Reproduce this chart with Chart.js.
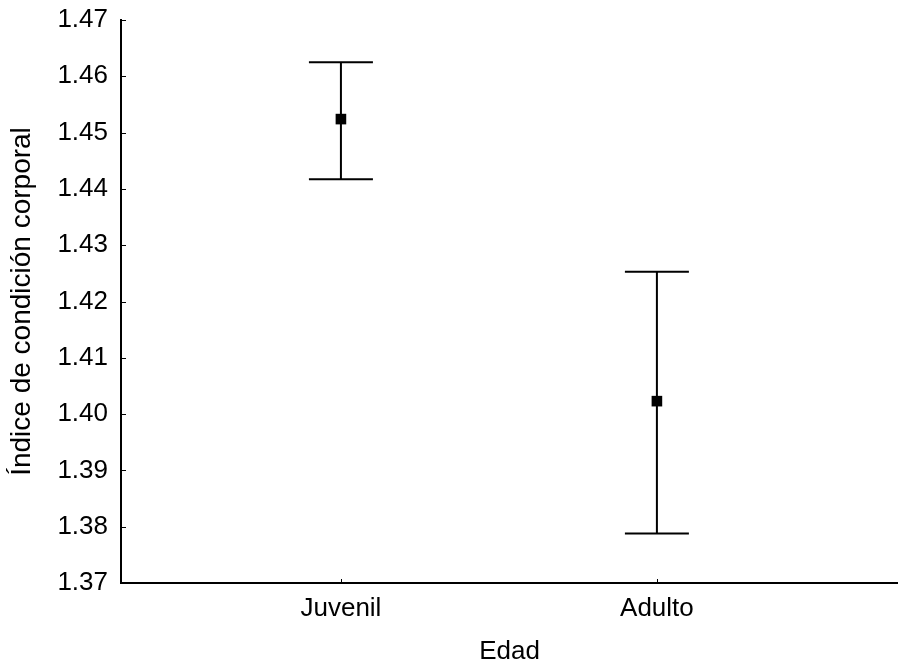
<!DOCTYPE html>
<html>
<head>
<meta charset="utf-8">
<script src="https://cdn.jsdelivr.net/npm/chart.js@4.4.1/dist/chart.umd.min.js"></script>
<style>
	body { margin: 0; background: #ffffff; }
	#wrap { width: 898px; height: 667px; position: relative; }
</style>
</head>
<body>
<div id="wrap"><canvas id="mychart"></canvas></div>
<script>
const categories = ["Juvenil", "Adulto"];
const means = [1.4524, 1.4023];
const lowerBars = [1.4417, 1.3788];
const upperBars = [1.4625, 1.4253];
const yTicks = [1.37, 1.38, 1.39, 1.40, 1.41, 1.42, 1.43, 1.44, 1.45, 1.46, 1.47];

const points = categories.map((c, i) => ({ x: i, y: means[i] }));

// whiskers + caps, drawn under the square markers
const errorBars = {
	id: "errorBars",
	beforeDatasetsDraw(chart) {
		const ctx = chart.ctx;
		const xs = chart.scales.x;
		const ys = chart.scales.y;
		ctx.save();
		ctx.strokeStyle = "#000";
		ctx.lineWidth = 2;
		for (let i = 0; i < categories.length; i++) {
			const px = xs.getPixelForValue(i);
			const top = ys.getPixelForValue(upperBars[i]);
			const bot = ys.getPixelForValue(lowerBars[i]);
			ctx.beginPath();
			ctx.moveTo(px, top);
			ctx.lineTo(px, bot);
			ctx.moveTo(px - 32, top);
			ctx.lineTo(px + 32, top);
			ctx.moveTo(px - 32, bot);
			ctx.lineTo(px + 32, bot);
			ctx.stroke();
		}
		ctx.restore();
	},
	afterDraw(chart) {
		// small inward tick marks
		const ctx = chart.ctx;
		const area = chart.chartArea;
		ctx.save();
		ctx.strokeStyle = "#000";
		ctx.lineWidth = 1;
		ctx.beginPath();
		chart.scales.y.ticks.forEach(t => {
			const py = Math.round(chart.scales.y.getPixelForValue(t.value)) + 0.5;
			ctx.moveTo(area.left, py);
			ctx.lineTo(area.left + 5, py);
		});
		chart.scales.x.ticks.forEach(t => {
			const px = Math.round(chart.scales.x.getPixelForValue(t.value)) + 0.5;
			ctx.moveTo(px, area.bottom);
			ctx.lineTo(px, area.bottom - 4);
		});
		ctx.stroke();
		ctx.restore();
	}
};

Chart.defaults.font.family = "'Liberation Sans', Arial, sans-serif";
Chart.defaults.color = "#000";

new Chart("mychart", {
	type: "scatter",
	data: {
		datasets: [{
			data: points,
			pointStyle: "rect",
			pointRadius: 7.5,
			pointBorderWidth: 0,
			backgroundColor: "#000",
			borderColor: "#000"
		}]
	},
	options: {
		responsive: true,
		maintainAspectRatio: false,
		animation: false,
		layout: { autoPadding: false, padding: { top: 20, right: 0, bottom: 0, left: 0 } },
		plugins: {
			legend: { display: false },
			tooltip: { enabled: false }
		},
		scales: {
			x: {
				type: "linear",
				min: -0.696,
				max: 1.763,
				afterBuildTicks: axis => { axis.ticks = categories.map((c, i) => ({ value: i })); },
				afterFit: axis => { axis.height = 84; axis.paddingLeft = 0; axis.paddingRight = 0; },
				ticks: {
					font: { size: 26 },
					padding: 10,
					callback: v => categories[v]
				},
				grid: { display: true, drawOnChartArea: false, drawTicks: false },
				border: { display: true, color: "#000", width: 2 },
				title: { display: true, text: "Edad", font: { size: 26 }, padding: { top: 0, bottom: 0 } }
			},
			y: {
				min: 1.37,
				max: 1.47,
				afterBuildTicks: axis => { axis.ticks = yTicks.map(v => ({ value: v })); },
				afterFit: axis => { axis.width = 121; axis.paddingTop = 0; axis.paddingBottom = 0; },
				ticks: {
					font: { size: 26 },
					padding: 13,
					callback: v => v.toFixed(2)
				},
				grid: { display: true, drawOnChartArea: false, drawTicks: false },
				border: { display: true, color: "#000", width: 2 },
				title: { display: true, text: "Índice de condición corporal", font: { size: 28 }, padding: { top: 5, bottom: 0 } }
			}
		}
	},
	plugins: [errorBars]
});
</script>
</body>
</html>
